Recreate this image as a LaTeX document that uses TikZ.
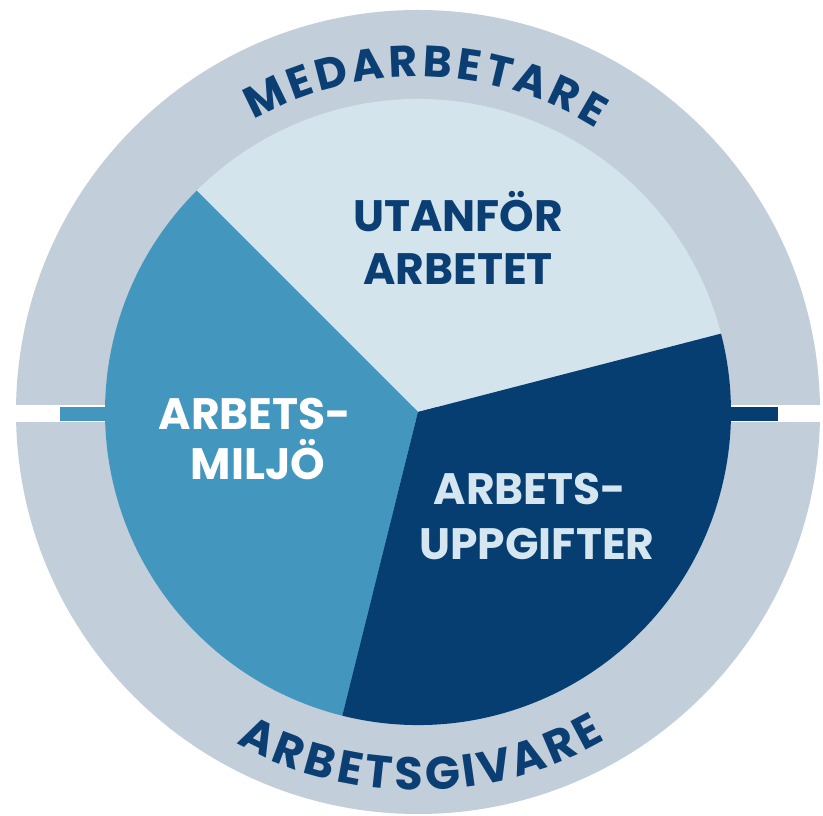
\documentclass[tikz,border=0pt]{standalone}
\usepackage{fontspec}
\newfontfamily\hand{Poppins}
\definecolor{ringc}{HTML}{C2CED9}
\definecolor{utanc}{HTML}{D4E4ED}
\definecolor{miljoc}{HTML}{4397BE}
\definecolor{uppgc}{HTML}{063E72}
\definecolor{navyt}{HTML}{0B3F74}
\definecolor{palet}{HTML}{D6E6F0}
\tikzset{
  lbl/.style={font=\hand\bfseries\fontsize{44}{44}\selectfont, anchor=base, inner sep=0pt},
  toplet/.style={font=\hand\bfseries\fontsize{44}{44}\selectfont, text=navyt, anchor=base, inner sep=0pt},
  botlet/.style={font=\hand\bfseries\fontsize{46}{46}\selectfont, text=navyt, anchor=base, inner sep=0pt},
}
\begin{document}
\begin{tikzpicture}[x=1pt,y=1pt]
\useasboundingbox (0,0) rectangle (823,816);
\fill[white] (0,0) rectangle (823,816);
\coordinate (C) at (418,404);
\fill[ringc] (C) circle[radius=402];
\fill[white] (0,394) rectangle (823,411);
\fill[miljoc] (60,395) rectangle (418,409);
\fill[uppgc] (418,395) rectangle (778,409);
\fill[utanc] (C) -- ++(14.5:313) arc[start angle=14.5, end angle=135, radius=313] -- cycle;
\fill[miljoc] (C) -- ++(135:313) arc[start angle=135, end angle=256, radius=313] -- cycle;
\fill[uppgc] (C) -- ++(256:313) arc[start angle=256, end angle=374.5, radius=313] -- cycle;
% segment labels
\node[lbl, text=navyt] (u1) at (458,584) {UTANFÖR};
\node[lbl, text=navyt] (u2) at (458,531) {ARBETET};
\node[lbl, text=white] (m1) at (255,386) {ARBETS-};
\node[lbl, text=white] (m2) at (258,336) {MILJÖ};
\node[lbl, text=palet] (a1) at (530,311) {ARBETS-};
\node[lbl, text=palet] (a2) at (537,256) {UPPGIFTER};
% ring label top: MEDARBETARE
\foreach \a/\l [count=\i] in {115.9/M,109.82/E,104.34/D,98.25/A,92.39/R,86.76/B,81.51/E,76.56/T,71.0/A,65.15/R,59.89/E}
  \node[toplet, rotate=\a-90] (t\i) at ([shift={(C)}]\a:335) {\l};
% ring label bottom: ARBETSGIVARE
\foreach \a/\l [count=\i] in {243.83/A,249.23/R,254.43/B,259.28/E,263.85/T,268.6/S,273.93/G,278.12/I,282.13/V,287.67/A,293.07/R,297.92/E}
  \node[botlet, rotate=\a+90] (b\i) at ([shift={(C)}]\a:378) {\l};
\end{tikzpicture}
\end{document}
